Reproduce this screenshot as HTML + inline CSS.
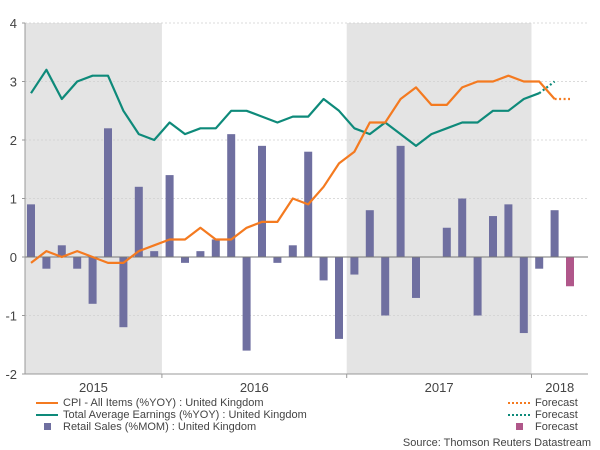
<!DOCTYPE html>
<html><head><meta charset="utf-8"><style>
body{margin:0;background:#fff;width:600px;height:450px;overflow:hidden}
svg{font-family:"Liberation Sans",sans-serif;display:block}
</style></head><body>
<svg id="chart" width="600" height="450" viewBox="0 0 600 450"></svg>
<script>
const months = ["2015-04","2015-05","2015-06","2015-07","2015-08","2015-09","2015-10","2015-11","2015-12",
"2016-01","2016-02","2016-03","2016-04","2016-05","2016-06","2016-07","2016-08","2016-09","2016-10","2016-11","2016-12",
"2017-01","2017-02","2017-03","2017-04","2017-05","2017-06","2017-07","2017-08","2017-09","2017-10","2017-11","2017-12",
"2018-01","2018-02","2018-03"];
const retail = [0.9,-0.2,0.2,-0.2,-0.8,2.2,-1.2,1.2,0.1,
1.4,-0.1,0.1,0.3,2.1,-1.6,1.9,-0.1,0.2,1.8,-0.4,-1.4,
-0.3,0.8,-1.0,1.9,-0.7,0,0.5,1.0,-1.0,0.7,0.9,-1.3,
-0.2,0.8,null];
const retailForecast = [null,null,null,null,null,null,null,null,null,null,null,null,null,null,null,null,null,null,null,null,null,null,null,null,null,null,null,null,null,null,null,null,null,null,null,-0.5];
const cpi = [-0.1,0.1,0.0,0.1,0.0,-0.1,-0.1,0.1,0.2,
0.3,0.3,0.5,0.3,0.3,0.5,0.6,0.6,1.0,0.9,1.2,1.6,
1.8,2.3,2.3,2.7,2.9,2.6,2.6,2.9,3.0,3.0,3.1,3.0,
3.0,2.7,null];
const cpiForecast = [2.7,2.7]; // Feb18 -> Mar18
const earnings = [2.8,3.2,2.7,3.0,3.1,3.1,2.5,2.1,2.0,
2.3,2.1,2.2,2.2,2.5,2.5,2.4,2.3,2.4,2.4,2.7,2.5,
2.2,2.1,2.3,2.1,1.9,2.1,2.2,2.3,2.3,2.5,2.5,2.7,
2.8,null,null];
const earningsForecast = [2.8,3.0]; // Jan18 -> Feb18
const yTicks = [4,3,2,1,0,-1,-2];
const years = ["2015","2016","2017","2018"];
const yearStartIdx = [-3,9,21,33];

const svg = document.getElementById('chart');
const NS = "http://www.w3.org/2000/svg";
const X0 = 25, X1 = 588, Y4 = 23, Ym2 = 374;
const step = 15.4;
const x = i => 31 + i*step;
const xb = i => 31 + (i-0.5)*step; // month boundary
const y = v => Y4 + (4 - v) * (Ym2 - Y4) / 6;
function mk(tag, attrs, parent){const e=document.createElementNS(NS,tag);for(const k in attrs)e.setAttribute(k,attrs[k]);(parent||svg).appendChild(e);return e;}

// shaded years
[[0,1],[2,3]].forEach(([a])=>{
  const s = Math.max(X0, xb(yearStartIdx[a]+0)); 
});
const sh1 = mk('rect',{x:X0,y:Y4,width:xb(9)-X0,height:Ym2-Y4,fill:'#e4e4e4'});


const sh2 = mk('rect',{x:xb(21),y:Y4,width:xb(33)-xb(21),height:Ym2-Y4,fill:'#e4e4e4'});



// grid + y labels
yTicks.forEach(t=>{
  if(t!==-2 && t!==0){
    const g=mk('line',{x1:X0,x2:X1,y1:y(t),y2:y(t),stroke:'#cfcfcf','stroke-dasharray':'2,2','stroke-width':0.8});
    
    
  }
  const l=mk('text',{x:17,y:y(t)+5,'text-anchor':'end','font-size':13,fill:'#444'});
  l.textContent=t;
  
  
  const tk=mk('line',{x1:X0-3,x2:X0,y1:y(t),y2:y(t),stroke:'#999'});
  
  
});

// bars
const bw = 8;
retail.forEach((v,i)=>{
  if(v===null||v===0) return;
  const b=mk('rect',{x:x(i)-bw/2,y:Math.min(y(v),y(0)),width:bw,height:Math.abs(y(v)-y(0)),fill:'#6f6fa0'});
  
  
});
retailForecast.forEach((v,i)=>{
  if(v===null) return;
  const b=mk('rect',{x:x(i)-bw/2,y:Math.min(y(v),y(0)),width:bw,height:Math.abs(y(v)-y(0)),fill:'#b0578a'});
  
  
});

// zero line and axes
const z=mk('line',{x1:X0,x2:X1,y1:y(0),y2:y(0),stroke:'#777','stroke-width':1});


const ya=mk('line',{x1:X0,x2:X0,y1:Y4,y2:Ym2,stroke:'#999'});


const xa=mk('line',{x1:X0,x2:X1,y1:Ym2,y2:Ym2,stroke:'#999'});



// lines
function path(arr, offset){let d='';let started=false;arr.forEach((v,i)=>{if(v===null)return;d+=(started?'L':'M')+x(i+offset).toFixed(1)+','+y(v).toFixed(1);started=true;});return d;}
const le=mk('path',{d:path(earnings,0),fill:'none',stroke:'#0e8a7a','stroke-width':2.2,'stroke-linejoin':'round'});


const lef=mk('path',{d:path(earningsForecast,33),fill:'none',stroke:'#0e8a7a','stroke-width':2.2,'stroke-dasharray':'2,2.5'});


const lc=mk('path',{d:path(cpi,0),fill:'none',stroke:'#f47a20','stroke-width':2.2,'stroke-linejoin':'round'});


const lcf=mk('path',{d:path(cpiForecast,34),fill:'none',stroke:'#f47a20','stroke-width':2.2,'stroke-dasharray':'2,2.5'});



// year labels and ticks
years.forEach((yr,k)=>{
  const s=Math.max(X0,xb(yearStartIdx[k])), e=Math.min(X1,xb(yearStartIdx[k]+12));
  const t=mk('text',{x:(s+e)/2,y:392,'text-anchor':'middle','font-size':13,fill:'#444'});
  t.textContent=yr;
  
  
  if(k>0){const tk=mk('line',{x1:s,x2:s,y1:Ym2,y2:Ym2+4,stroke:'#999'});
  
  }
});
</script>
<div style="position:absolute;left:0;top:0;width:600px;height:450px;font-family:'Liberation Sans',sans-serif;font-size:11px;color:#444;pointer-events:none">
  <div>
    <div style="position:absolute;left:36px;top:397px;white-space:nowrap"><span style="display:inline-block;width:22px;height:2px;background:#f47a20;vertical-align:middle;margin-right:5px"></span>CPI - All Items (%YOY) : United Kingdom</div>
    <div style="position:absolute;left:36px;top:409px;white-space:nowrap"><span style="display:inline-block;width:22px;height:2px;background:#0e8a7a;vertical-align:middle;margin-right:5px"></span>Total Average Earnings (%YOY) : United Kingdom</div>
    <div style="position:absolute;left:36px;top:421px;white-space:nowrap"><span style="display:inline-block;width:22px;text-align:center;margin-right:5px"><span style="display:inline-block;width:7px;height:7px;background:#6f6fa0"></span></span>Retail Sales (%MOM) : United Kingdom</div>
    <div style="position:absolute;left:508px;top:397px;white-space:nowrap"><span style="display:inline-block;width:22px;border-top:2px dotted #f47a20;vertical-align:middle;margin-right:5px"></span>Forecast</div>
    <div style="position:absolute;left:508px;top:409px;white-space:nowrap"><span style="display:inline-block;width:22px;border-top:2px dotted #0e8a7a;vertical-align:middle;margin-right:5px"></span>Forecast</div>
    <div style="position:absolute;left:508px;top:421px;white-space:nowrap"><span style="display:inline-block;width:22px;text-align:center;margin-right:5px"><span style="display:inline-block;width:7px;height:7px;background:#b0578a"></span></span>Forecast</div>
  </div>
  <div style="position:absolute;right:9px;top:437px;white-space:nowrap">Source: Thomson Reuters Datastream</div>
</div>
</body></html>
